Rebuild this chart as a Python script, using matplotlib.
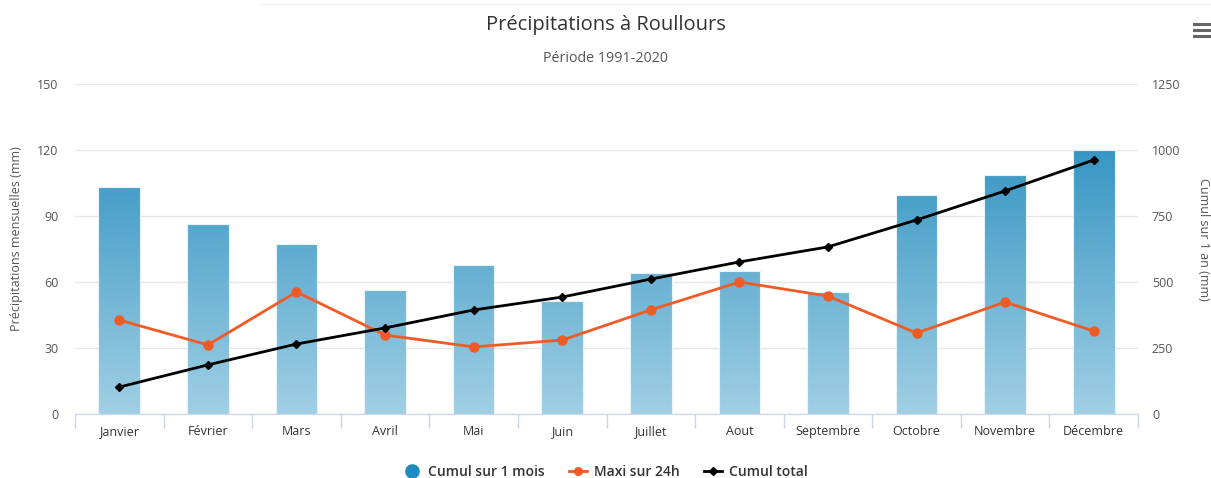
import numpy as np
import matplotlib
matplotlib.use("Agg")
import matplotlib.pyplot as plt
from matplotlib.colors import LinearSegmentedColormap
from matplotlib.lines import Line2D

plt.rcParams['font.family'] = ['Open Sans', 'DejaVu Sans']

months = ["Janvier", "Février", "Mars", "Avril", "Mai", "Juin", "Juillet",
          "Aout", "Septembre", "Octobre", "Novembre", "Décembre"]
cumul_mois = [103.2, 86.4, 77.3, 56.4, 67.7, 51.4, 64.1, 65.0, 55.5, 99.5, 108.6, 120.0]
maxi_24h = [42.7, 31.4, 55.5, 35.9, 30.5, 33.6, 47.3, 60.0, 53.6, 36.8, 50.9, 37.7]
cumul_total = [102, 186, 265, 326, 394, 443, 511, 576, 633, 735, 845, 962]

W, H = 1211, 478
fig = plt.figure(figsize=(W / 100, H / 100), dpi=100)
ax = fig.add_axes([75 / W, 64 / H, (1138 - 75) / W, 330 / H])
ax2 = ax.twinx()

x = np.arange(len(months))
bars = ax.bar(x, cumul_mois, width=0.47, color="none", edgecolor="#e8f3f9",
              linewidth=0.8, zorder=2)

# vertical gradient for the bars, clipped to each bar
cmap = LinearSegmentedColormap.from_list("blu", ["#a0cfe4", "#1e88bb"])
grad = np.linspace(0, 1, 256).reshape(-1, 1)
for b in bars:
    im = ax.imshow(grad, cmap=cmap, origin="lower", aspect="auto",
                   extent=[-0.5, 11.5, 0, 150], zorder=1.5)
    im.set_clip_path(b)

ax.plot(x, maxi_24h, color="#ef5b25", lw=2, marker="o", ms=6.5, zorder=3)
ax2.plot(x, cumul_total, color="#000000", lw=2, marker="D", ms=4.5, zorder=4)

ax.set_xlim(-0.5, 11.5)
ax.set_ylim(0, 150)
ax.set_yticks(range(0, 151, 30))
ax2.set_ylim(0, 1250)
ax2.set_yticks(range(0, 1251, 250))

ax.set_xticks(x)
ax.set_xticklabels(months)
ax.set_xticks(np.arange(-0.5, 12, 1), minor=True)
ax.tick_params(axis="x", which="major", length=0, pad=8, labelsize=9, colors="#333333")
ax.tick_params(axis="x", which="minor", length=10, color="#ccd6eb", width=1)
ax.tick_params(axis="y", length=0, pad=12, labelsize=9, labelcolor="#555555")
ax2.tick_params(axis="y", length=0, pad=10, labelsize=9, labelcolor="#555555")

ax.grid(axis="y", color="#e6e6e6", lw=1)
ax.set_axisbelow(True)
for a in (ax, ax2):
    for s in ("top", "left", "right"):
        a.spines[s].set_visible(False)
    a.spines["bottom"].set_color("#ccd6eb")

ax.set_ylabel("Précipitations mensuelles (mm)", fontsize=9, color="#555555", va="center")
ax.yaxis.set_label_coords((17 - 75) / 1063, 0.53)
ax2.set_ylabel("Cumul sur 1 an (mm)", fontsize=9, color="#555555", rotation=270, va="center")
ax2.yaxis.set_label_coords((1203 - 75) / 1063, 0.53)

fig.text(0.5, 1 - 25 / H, "Précipitations à Roullours", ha="center", va="center",
         fontsize=14.5, color="#333333")
fig.text(0.5, 1 - 59 / H, "Période 1991-2020", ha="center", va="center",
         fontsize=10.3, color="#555555")

# menu icon
for yy in (24, 30, 36):
    fig.add_artist(Line2D([1194 / W, 1210 / W], [1 - yy / H] * 2, color="#666666", lw=2.2))
fig.add_artist(Line2D([260 / W, 1.0], [1 - 4 / H] * 2, color="#f0f0f0", lw=1))

handles = [
    Line2D([], [], color="#1f8ac0", marker="o", ms=9.5, lw=0),
    Line2D([], [], color="#ef5b25", marker="o", ms=5.5, lw=2),
    Line2D([], [], color="#000000", marker="D", ms=4.5, lw=2),
]
labels = ["Cumul sur 1 mois", "Maxi sur 24h", "Cumul total"]
leg = fig.legend(handles, labels, loc="center", bbox_to_anchor=(0.5, 1 - 472 / H),
                 ncol=3, frameon=False, fontsize=10, handlelength=1.3,
                 columnspacing=1.7, handletextpad=0.55)
for t in leg.get_texts():
    t.set_color("#333333")
    t.set_fontweight("semibold")

fig.savefig("out.png", dpi=100)
